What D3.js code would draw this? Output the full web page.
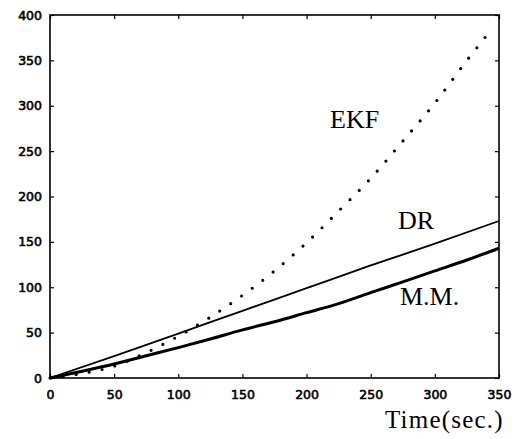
<!DOCTYPE html>
<html>
<head>
<meta charset="utf-8">
<script src="https://cdn.jsdelivr.net/npm/d3@7"></script>
<style>
  body { margin: 0; background: #fff; }
  .tick text { font-family: "DejaVu Sans", sans-serif; font-size: 12.5px; fill: #000; stroke: #000; stroke-width: 0.6px; }
  .lbl { font-family: "Liberation Serif", "Times New Roman", serif; fill: #000; }
</style>
</head>
<body>
<div id="chart"></div>
<script>
// Time axis (sec.) and values
var timeTicks = [0, 50, 100, 150, 200, 250, 300, 350];
var valueTicks = [0, 50, 100, 150, 200, 250, 300, 350, 400];

var ekfTime = [0, 25, 50, 75, 100, 125, 150, 175, 200, 225, 250, 275, 300, 325, 343];
var ekfVals = [0, 5, 13, 28, 46, 67, 91, 118, 149, 184, 220, 261, 303, 350, 382];

var drTime = [0, 50, 100, 150, 200, 250, 300, 350];
var drVals = [0, 24, 49, 74, 99, 124, 148, 173];

var mmTime = [0, 25, 50, 75, 100, 125, 150, 175, 200, 225, 250, 275, 300, 325, 350];
var mmVals = [0, 7.5, 15.5, 24.5, 33.5, 43, 53, 62, 72, 82, 94, 106, 118, 130, 143];

var width = 521, height = 439;
var plot = {left: 50, right: 499, top: 15, bottom: 378};

var svg = d3.select("#chart").append("svg")
  .attr("width", width)
  .attr("height", height);

var x = d3.scaleLinear().domain([0, 350]).range([plot.left, plot.right]);
var y = d3.scaleLinear().domain([0, 400]).range([plot.bottom, plot.top]);

// axes with inward ticks on all four sides
svg.append("g")
  .attr("transform", "translate(0," + plot.bottom + ")")
  .call(d3.axisBottom(x).tickValues(timeTicks).tickSizeInner(-4).tickSizeOuter(0).tickPadding(12));
svg.append("g")
  .attr("transform", "translate(" + plot.left + ",0)")
  .call(d3.axisLeft(y).tickValues(valueTicks).tickSizeInner(-4).tickSizeOuter(0).tickPadding(8));
svg.append("g")
  .attr("transform", "translate(0," + plot.top + ")")
  .call(d3.axisTop(x).tickValues(timeTicks).tickSizeInner(-4).tickSizeOuter(0).tickFormat(""));
svg.append("g")
  .attr("transform", "translate(" + plot.right + ",0)")
  .call(d3.axisRight(y).tickValues(valueTicks).tickSizeInner(-4).tickSizeOuter(0).tickFormat(""));

svg.selectAll(".domain").remove();
svg.selectAll(".tick line").attr("stroke", "#000").attr("stroke-width", 1.2);

// frame
svg.append("rect")
  .attr("x", plot.left).attr("y", plot.top)
  .attr("width", plot.right - plot.left).attr("height", plot.bottom - plot.top)
  .attr("fill", "none")
  .attr("stroke", "#000")
  .attr("stroke-width", 1.6);

var line = d3.line()
  .x(d => x(d[0]))
  .y(d => y(d[1]))
  .curve(d3.curveMonotoneX);

// DR
svg.append("path")
  .datum(d3.zip(drTime, drVals))
  .attr("d", line)
  .attr("fill", "none")
  .attr("stroke", "#000")
  .attr("stroke-width", 1.8);

// M.M.
svg.append("path")
  .datum(d3.zip(mmTime, mmVals))
  .attr("d", line)
  .attr("fill", "none")
  .attr("stroke", "#000")
  .attr("stroke-width", 3);

// EKF dotted
svg.append("path")
  .datum(d3.zip(ekfTime, ekfVals))
  .attr("d", line)
  .attr("fill", "none")
  .attr("stroke", "#000")
  .attr("stroke-width", 3.2)
  .attr("stroke-linecap", "round")
  .attr("stroke-dasharray", "0,13.2");

// labels
svg.append("text").attr("class", "lbl").attr("x", 330).attr("y", 128)
  .style("font-size", "26px").text("EKF");
svg.append("text").attr("class", "lbl").attr("x", 398).attr("y", 229)
  .style("font-size", "26px").text("DR");
svg.append("text").attr("class", "lbl").attr("x", 400).attr("y", 305)
  .style("font-size", "26px").text("M.M.");
svg.append("text").attr("class", "lbl").attr("x", 385).attr("y", 428)
  .style("font-size", "25px").style("letter-spacing", "1.2px").text("Time(sec.)");
</script>
</body>
</html>
